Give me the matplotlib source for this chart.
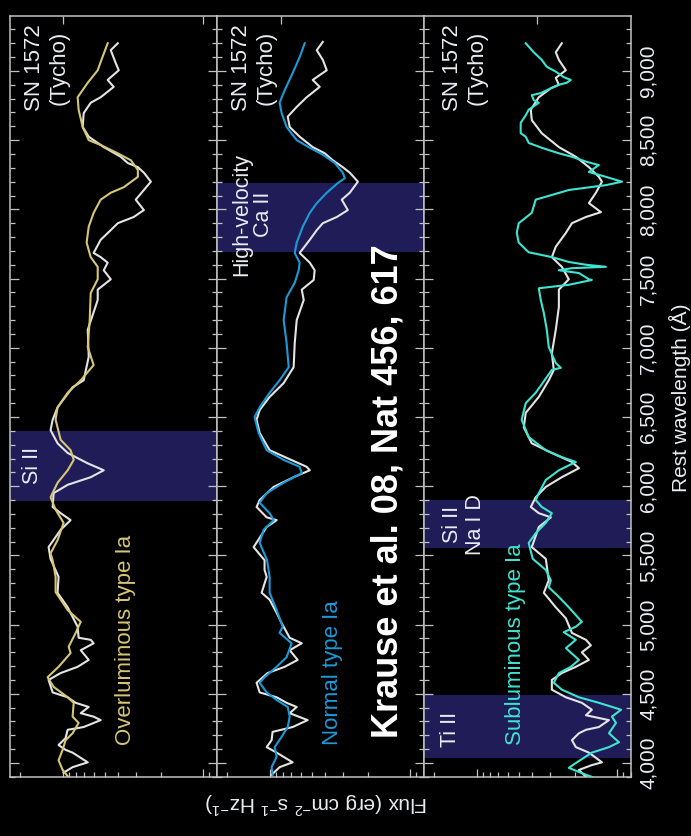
import numpy as np
import matplotlib
matplotlib.use("Agg")
import matplotlib.pyplot as plt
from matplotlib.ticker import (LogLocator, NullFormatter, NullLocator,
                               MultipleLocator, FuncFormatter)

plt.rcParams['font.family'] = ['Liberation Sans', 'DejaVu Sans']
plt.rcParams['mathtext.default'] = 'regular'

# ---------------------------------------------------------------------------
# Spectra: rest wavelength (Angstrom) and log10 of flux (arbitrary zero point)
# ---------------------------------------------------------------------------
# Overluminous type Ia template
over_wl = [9200, 9065, 9005, 8915, 8810, 8720, 8595, 8500, 8465, 8405, 8355, 8285,
           8235, 8160, 8120, 8070, 7975, 7875, 7760, 7655, 7585, 7495, 7395, 7200,
           7005, 6875, 6765, 6675, 6570, 6480, 6335, 6260, 6190, 6115, 6025, 5920,
           5830, 5735, 5610, 5515, 5465, 5345, 5235, 5105, 5020, 4940, 4840, 4795,
           4695, 4620, 4550, 4475, 4435, 4335, 4290, 4215, 4165, 4095, 4020, 3950, 3905]
over_logf = [0.679, 0.729, 0.75, 0.821, 0.893, 0.886, 0.857, 0.814, 0.729, 0.607, 0.514,
             0.464, 0.464, 0.564, 0.657, 0.729, 0.779, 0.814, 0.829, 0.80, 0.75, 0.75,
             0.80, 0.807, 0.821, 0.779, 0.871, 0.964, 1.036, 1.05, 1.014, 0.943, 0.921,
             0.964, 1.036, 1.086, 1.05, 0.993, 1.036, 1.086, 1.071, 1.05, 1.05, 0.964,
             0.871, 0.907, 0.957, 0.943, 1.029, 1.107, 1.064, 0.964, 0.921, 0.929,
             0.886, 0.929, 0.979, 1.0, 1.029, 1.0, 0.964]

# SN 1572 (Tycho) light echo, scaled to the overluminous template
tycho1_wl = [9200, 9150, 9055, 9005, 8935, 8885, 8810, 8770, 8695, 8595, 8525, 8450,
             8380, 8335, 8305, 8265, 8200, 8140, 8070, 7995, 7945, 7900, 7850, 7780,
             7685, 7655, 7615, 7560, 7495, 7420, 7345, 7130, 6935, 6765, 6715, 6570,
             6480, 6405, 6310, 6240, 6165, 6115, 6065, 6010, 5950, 5850, 5805, 5755,
             5685, 5560, 5475, 5345, 5230, 5125, 5055, 4985, 4905, 4890, 4865, 4815,
             4745, 4695, 4650, 4600, 4510, 4475, 4435, 4405, 4360, 4335, 4310, 4260,
             4240, 4180, 4130, 4095, 4075, 4005, 3970, 3930]
tycho1_logf = [0.607, 0.657, 0.621, 0.60, 0.679, 0.636, 0.729, 0.80, 0.85, 0.857, 0.814,
               0.707, 0.586, 0.536, 0.464, 0.421, 0.371, 0.421, 0.479, 0.421, 0.493,
               0.607, 0.657, 0.729, 0.779, 0.729, 0.679, 0.707, 0.657, 0.75, 0.75,
               0.821, 0.814, 0.85, 0.929, 1.036, 1.071, 1.086, 1.036, 0.964, 0.821,
               0.707, 0.80, 0.964, 1.064, 1.071, 1.014, 0.943, 1.014, 1.10, 1.086,
               1.029, 1.036, 0.964, 0.929, 0.893, 0.886, 0.80, 0.779, 0.871, 0.814,
               0.893, 1.014, 1.10, 1.071, 0.964, 0.907, 0.814, 0.871, 0.779, 0.729,
               0.85, 0.964, 0.979, 1.029, 0.979, 0.929, 0.821, 0.929, 0.993]

# Normal type Ia template
normal_wl = [9200, 9100, 8985, 8860, 8770, 8695, 8595, 8500, 8445, 8395, 8335, 8265,
             8225, 8190, 8120, 8045, 7975, 7875, 7760, 7685, 7615, 7560, 7470, 7365,
             7200, 7035, 6860, 6765, 6675, 6570, 6500, 6385, 6260, 6190, 6140, 6095,
             6025, 5950, 5880, 5805, 5755, 5685, 5590, 5465, 5345, 5230, 5105, 4985,
             4940, 4865, 4765, 4695, 4620, 4580, 4510, 4455, 4405, 4335, 4260, 4190,
             4115, 4045, 3970, 3915]
normal_logf = [0.75, 0.786, 0.836, 0.893, 0.929, 0.914, 0.879, 0.807, 0.714, 0.621,
               0.536, 0.479, 0.464, 0.514, 0.593, 0.664, 0.714, 0.764, 0.807, 0.821,
               0.786, 0.793, 0.821, 0.879, 0.90, 0.879, 0.864, 0.929, 1.0, 1.071,
               1.107, 1.079, 1.021, 0.90, 0.786, 0.771, 0.90, 1.021, 1.071, 1.0, 0.971,
               1.043, 1.071, 1.018, 1.0, 1.0, 0.95, 0.907, 0.929, 0.843, 0.879, 0.95,
               1.036, 1.071, 1.021, 0.95, 0.871, 0.857, 0.871, 0.914, 0.964, 0.95,
               0.986, 0.979]

# Tycho spectrum scaled to the normal template
tycho2_wl = [9210, 9150, 9080, 9005, 8935, 8885, 8810, 8740, 8670, 8595, 8525, 8450,
             8405, 8355, 8305, 8265, 8200, 8120, 8070, 7995, 7945, 7900, 7850, 7780,
             7685, 7615, 7560, 7490, 7420, 7345, 7200, 7035, 6860, 6745, 6645, 6550,
             6480, 6385, 6260, 6205, 6140, 6115, 6065, 5995, 5900, 5850, 5775, 5755,
             5705, 5560, 5465, 5395, 5345, 5230, 5180, 5085, 5010, 4905, 4865, 4815,
             4745, 4695, 4650, 4580, 4510, 4475, 4435, 4405, 4360, 4310, 4260, 4225,
             4165, 4115, 4075, 4005, 3970, 3915]
tycho2_logf = [0.621, 0.664, 0.621, 0.593, 0.693, 0.643, 0.736, 0.807, 0.871, 0.857,
               0.786, 0.693, 0.607, 0.55, 0.479, 0.429, 0.371, 0.429, 0.486, 0.443,
               0.521, 0.621, 0.664, 0.714, 0.786, 0.714, 0.679, 0.686, 0.771, 0.757,
               0.807, 0.821, 0.829, 0.90, 1.0, 1.071, 1.093, 1.071, 1.0, 0.879, 0.736,
               0.714, 0.829, 0.971, 1.071, 1.093, 1.021, 0.95, 1.021, 1.114, 1.036,
               1.036, 1.021, 1.057, 1.0, 0.95, 0.914, 0.857, 0.771, 0.857, 0.80, 0.893,
               1.014, 1.093, 1.071, 0.95, 0.879, 0.807, 0.857, 0.729, 0.836, 0.979,
               0.986, 1.021, 0.95, 0.836, 0.929, 0.986]

# Subluminous type Ia template
sub_wl = [9200, 9135, 9080, 9030, 8995, 8955, 8935, 8915, 8900, 8875, 8840, 8825,
          8790, 8770, 8720, 8680, 8625, 8550, 8525, 8480, 8445, 8405, 8380, 8345,
          8320, 8270, 8235, 8200, 8175, 8140, 8070, 7975, 7900, 7830, 7760, 7690,
          7655, 7620, 7600, 7585, 7575, 7560, 7540, 7495, 7490, 7455, 7430, 7345,
          7250, 7130, 7005, 6890, 6855, 6840, 6675, 6600, 6480, 6355, 6260, 6210,
          6175, 6115, 6045, 5950, 5900, 5850, 5805, 5735, 5660, 5590, 5475, 5395,
          5320, 5270, 5200, 5125, 5020, 4985, 4945, 4890, 4830, 4745, 4695, 4650,
          4580, 4530, 4475, 4435, 4385, 4335, 4290, 4215, 4150, 4115, 4075, 4000,
          3965, 3915, 3900]
sub_logf = [0.65, 0.593, 0.536, 0.50, 0.436, 0.379, 0.329, 0.357, 0.414, 0.471, 0.543,
            0.607, 0.593, 0.557, 0.629, 0.65, 0.686, 0.686, 0.65, 0.629, 0.536, 0.414,
            0.321, 0.221, 0.129, 0.20, 0.079, -0.036, 0.079, 0.343, 0.579, 0.607, 0.70,
            0.714, 0.70, 0.629, 0.464, 0.343, 0.221, 0.079, 0.321, 0.414, 0.271, 0.20,
            0.179, 0.343, 0.557, 0.543, 0.521, 0.50, 0.486, 0.436, 0.40, 0.464, 0.579,
            0.65, 0.679, 0.629, 0.507, 0.393, 0.293, 0.414, 0.507, 0.557, 0.579, 0.536,
            0.464, 0.507, 0.579, 0.629, 0.60, 0.507, 0.471, 0.486, 0.414, 0.343, 0.25,
            0.293, 0.379, 0.293, 0.364, 0.271, 0.329, 0.414, 0.45, 0.393, 0.271, 0.129,
            -0.029, 0.036, 0.007, 0.057, -0.014, 0.057, 0.179, 0.293, 0.343, 0.221,
            0.179]

# Tycho spectrum scaled to the subluminous template
tycho3_wl = [9200, 9135, 9080, 9005, 8950, 8900, 8875, 8810, 8720, 8645, 8550, 8450,
             8380, 8305, 8235, 8200, 8120, 8045, 7980, 7945, 7900, 7830, 7730, 7655,
             7585, 7495, 7420, 7295, 7130, 6960, 6840, 6765, 6645, 6530, 6425, 6310,
             6240, 6175, 6130, 6065, 5995, 5920, 5850, 5805, 5775, 5705, 5560, 5475,
             5320, 5230, 5125, 5045, 4940, 4890, 4850, 4800, 4745, 4695, 4650, 4600,
             4530, 4475, 4435, 4385, 4345, 4310, 4260, 4240, 4215, 4165, 4115, 4075,
             4005, 3985, 3950, 3900]
tycho3_logf = [0.393, 0.436, 0.414, 0.364, 0.436, 0.414, 0.471, 0.557, 0.614, 0.607,
               0.536, 0.414, 0.293, 0.20, 0.129, 0.107, 0.15, 0.20, 0.114, 0.221,
               0.321, 0.364, 0.436, 0.464, 0.393, 0.343, 0.414, 0.414, 0.436, 0.464,
               0.45, 0.486, 0.557, 0.65, 0.664, 0.607, 0.464, 0.321, 0.271, 0.393,
               0.507, 0.579, 0.614, 0.557, 0.471, 0.557, 0.607, 0.507, 0.486, 0.521,
               0.436, 0.364, 0.321, 0.221, 0.186, 0.25, 0.20, 0.293, 0.393, 0.464,
               0.464, 0.364, 0.25, 0.179, 0.221, 0.057, 0.129, 0.221, 0.271, 0.321,
               0.293, 0.20, 0.107, 0.179, 0.271, 0.221]

# Highlighted absorption features (wavelength ranges) per panel
bands = [
    [(5890, 6400)],                 # Si II
    [(7690, 8190)],                 # high-velocity Ca II
    [(5550, 5900), (4035, 4490)],   # Si II / Na I D, Ti II
]
band_labels = [
    [("Si II", 0.111, 0.41, 1.2)],
    [("High-velocity\nCa II", 0.17, 0.739, 1.05)],
    [("Si II\nNa I D", 0.193, 0.332, 1.1), ("Ti II", 0.126, 0.063, 1.2)],
]

template_names = ["Overluminous type Ia", "Normal type Ia", "Subluminous type Ia"]
template_colors = ["#d6c676", "#1c9ad8", "#3ee4d2"]
template_wl = [over_wl, normal_wl, sub_wl]
template_logf = [over_logf, normal_logf, sub_logf]
tycho_wl = [tycho1_wl, tycho2_wl, tycho3_wl]
tycho_logf = [tycho1_logf, tycho2_logf, tycho3_logf]
top_tick_flux = [[10.0, 1.0], [8.3], [3.7]]
name_xfrac = [0.56, 0.556, 0.444]

# ---------------------------------------------------------------------------
W, H = 691, 836
fig = plt.figure(figsize=(W / 100, H / 100), dpi=100, facecolor="black")

frame_col = "#c2c2c2"
text_col = "#e8edf2"
band_col = "#1f1c57"
tycho_col = "#e4e4e4"

panel_left = [10, 217, 424]
panel_w = 207
y_top, y_bot = 16, 777

axes = []
for i in range(3):
    ax = fig.add_axes([panel_left[i] / W, 1 - y_bot / H, panel_w / W,
                       (y_bot - y_top) / H])
    ax.set_facecolor("black")
    ax.set_xscale("log")
    ax.set_xlim(10 ** 1.375, 10 ** -0.1)
    ax.set_ylim(3899, 9397)

    for lo, hi in bands[i]:
        ax.axhspan(lo, hi, color=band_col, lw=0, zorder=0)

    ax.plot(10 ** np.asarray(tycho_logf[i]), tycho_wl[i], color=tycho_col,
            lw=1.5, zorder=2, solid_joinstyle="round")
    ax.plot(10 ** np.asarray(template_logf[i]), template_wl[i],
            color=template_colors[i], lw=1.5, zorder=3, solid_joinstyle="round")

    # flux axis (log)
    ax.xaxis.set_major_locator(LogLocator(base=10, numticks=10))
    ax.xaxis.set_minor_locator(LogLocator(base=10, subs=np.arange(2, 10),
                                          numticks=10))
    ax.xaxis.set_major_formatter(NullFormatter())
    ax.xaxis.set_minor_formatter(NullFormatter())
    # wavelength axis
    ax.yaxis.set_major_locator(MultipleLocator(500))
    ax.yaxis.set_minor_locator(MultipleLocator(100))

    ax.tick_params(which="both", direction="in", color=frame_col, width=0.9,
                   top=False, bottom=True, left=True, right=True,
                   labelbottom=False, labelleft=False, labelright=False)
    ax.tick_params(axis="x", which="major", length=6)
    ax.tick_params(axis="x", which="minor", length=3.5)
    ax.tick_params(axis="y", which="major", length=6.5)
    ax.tick_params(axis="y", which="minor", length=3.5)

    for sp in ax.spines.values():
        sp.set_color(frame_col)
        sp.set_linewidth(1.1)

    sec = ax.secondary_xaxis("top")
    sec.set_xticks(top_tick_flux[i])
    sec.xaxis.set_minor_locator(NullLocator())
    sec.tick_params(direction="in", length=6, color=frame_col, width=0.9,
                    labeltop=False)
    for sp in sec.spines.values():
        sp.set_visible(False)

    # annotations
    ax.text(0.179 if i < 2 else 0.196, 0.932, "SN 1572\n(Tycho)",
            transform=ax.transAxes, rotation=90, ha="center", va="center",
            multialignment="center", color=text_col, fontsize=16)
    ax.text(name_xfrac[i], 0.042, template_names[i], transform=ax.transAxes,
            rotation=90, ha="center", va="bottom", color=template_colors[i],
            fontsize=16)
    for label, xf, yf, ls in band_labels[i]:
        ax.text(xf, yf, label, transform=ax.transAxes, rotation=90,
                ha="center", va="center", multialignment="center",
                linespacing=ls, color=text_col, fontsize=15.5)
    axes.append(ax)

# wavelength tick labels on the right-hand panel
axr = axes[2]
axr.tick_params(axis="y", which="major", labelright=True, labelrotation=90,
                labelsize=15, labelcolor=text_col, pad=5.5)
axr.yaxis.set_major_formatter(FuncFormatter(lambda v, p: f"{int(v):,}"))
plt.setp(axr.yaxis.get_majorticklabels(), va="center", ha="left")

fig.text(680 / W, 1 - 398 / H, "Rest wavelength (Å)", rotation=90,
         ha="center", va="center", color=text_col, fontsize=15)
fig.text(316 / W, 1 - 803 / H, "Flux (erg cm$^{-2}$ s$^{-1}$ Hz$^{-1}$)",
         rotation=180, ha="center", va="center", color=text_col, fontsize=15)

fig.text(388 / W, 1 - 738 / H, "Krause et al. 08, Nat 456, 617", rotation=90,
         ha="center", va="bottom", color="white", fontsize=26,
         fontweight="bold")

fig.savefig("out.png", dpi=100, facecolor="black")
